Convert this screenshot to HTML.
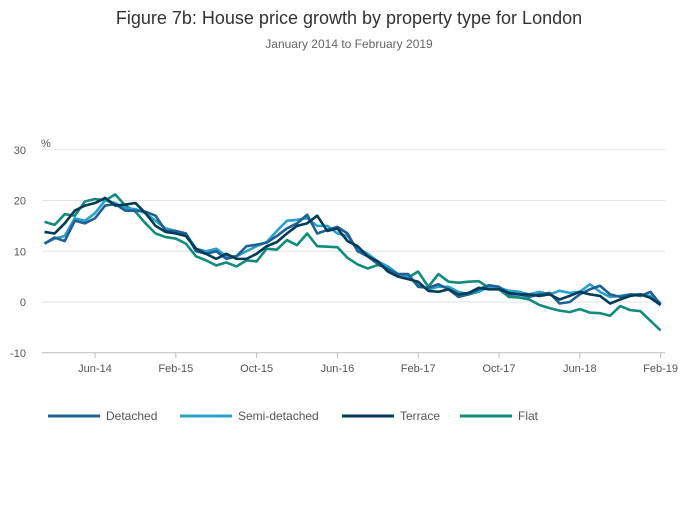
<!DOCTYPE html>
<html><head><meta charset="utf-8"><style>
body{margin:0;background:#fff;font-family:"Liberation Sans",sans-serif}
svg text{font-family:"Liberation Sans",sans-serif}
</style></head><body>
<svg id="c" width="700" height="502">
<text x="349" y="24" text-anchor="middle" font-size="18" fill="#333">Figure 7b: House price growth by property type for London</text>
<text x="349" y="48" text-anchor="middle" font-size="12" fill="#666">January 2014 to February 2019</text>
<text x="41" y="147" font-size="11" fill="#555">%</text>
<g id="grid"></g><g id="series"></g><g id="legend"></g>
</svg>
<script>
const yTicks=[30,20,10,0,-10];
const xTickIdx=[5,13,21,29,37,45,53,61];
const xTickLabels=["Jun-14","Feb-15","Oct-15","Jun-16","Feb-17","Oct-17","Jun-18","Feb-19"];
const seriesNames=["Detached","Semi-detached","Terrace","Flat"];
const detached=[11.5,12.7,12,16,15.5,16.5,19,19.3,18,18,17.8,17,14,14,13.5,10,9.5,10,8.5,9,11,11.3,11.7,13,14.5,15.5,17.2,13.5,14.2,14.8,13.5,10,9,7.5,6.5,5.5,5.5,3,2.8,3.5,2.5,1,1.5,2.5,3.3,3,1.5,1.5,1,1.5,1.8,-0.3,0,1.5,2.5,3.2,1.5,1,1.5,1.2,2,-0.5];
const semi=[11.5,12.5,13,16.5,16,17.5,20,19.5,18.5,18.3,17.5,16,14.5,14,13.5,10.5,10,10.5,9,9,10,11,11.8,14,16,16.2,16.5,15,15,13.5,13,10.5,9.5,8,7,5.5,5,3.5,2.5,3,3,2,1.5,2,3,2.8,2.2,2,1.5,2,1.5,2.2,1.8,2,3.5,2,1,1.2,1.5,1.5,1.2,-0.2];
const terrace=[13.8,13.5,15.5,18,19,19.5,20.5,19,19.2,19.5,17.5,15,13.8,13.5,13,10.5,9.5,8.5,9.5,8.5,8.5,9.5,11,11.8,13.5,15,15.5,17,14,14.5,12,11,9,8,6,5,4.5,4,2.2,2,2.5,1.5,1.8,2.8,2.5,2.5,1.8,1.5,1.5,1.2,1.5,0.5,1.2,2,1.5,1.2,-0.3,0.5,1.2,1.5,0.8,-0.6];
const flat=[15.8,15.2,17.3,17,19.8,20.3,20,21.2,19,17.8,15.5,13.5,12.8,12.5,11.5,9,8.2,7.2,7.8,7,8.2,8,10.5,10.3,12.2,11.2,13.5,11,10.9,10.8,8.7,7.4,6.6,7.3,6.8,5.3,4.8,6,3,5.5,4,3.8,4,4.1,2.8,2.5,1,0.9,0.5,-0.6,-1.2,-1.7,-2,-1.4,-2.1,-2.2,-2.7,-0.8,-1.6,-1.8,-3.7,-5.6];
const colors=["#206095","#27a0cc","#003c57","#118c7b"];
const NS="http://www.w3.org/2000/svg";
const X=i=>44.5+i*10.1;
const Y=v=>302-v*5.075;
function mk(t,a,p){const e=document.createElementNS(NS,t);for(const k in a)e.setAttribute(k,a[k]);p.appendChild(e);return e;}
const grid=document.getElementById('grid');
yTicks.forEach(v=>{
  const l=mk('line',{x1:42,x2:665,y1:Y(v),y2:Y(v),stroke:v===-10?'#bbb':'#e2e2e2','stroke-width':1},grid);
  
  
  const t=mk('text',{x:26,y:Y(v)+4,'text-anchor':'end','font-size':11,fill:'#555'},grid);t.textContent=v;
  
  
});
xTickIdx.forEach((idx,k)=>{
  const l=mk('line',{x1:X(idx),x2:X(idx),y1:353,y2:358,stroke:'#bbb'},grid);
  
  
  const t=mk('text',{x:X(idx),y:372,'text-anchor':'middle','font-size':11,fill:'#555'},grid);t.textContent=xTickLabels[k];
  
  
});
const data=[detached,semi,terrace,flat];
const order=[3,1,0,2];
const sg=document.getElementById('series');
order.forEach(s=>{
  const p=mk('polyline',{points:data[s].map((v,i)=>X(i)+','+Y(v)).join(' '),fill:'none',stroke:colors[s],'stroke-width':2.6,'stroke-linejoin':'round'},sg);
  
  
});
const lg=document.getElementById('legend');
const lx=[48,180,342,460];
seriesNames.forEach((n,s)=>{
  const g=mk('g',{},lg);
  
  
  mk('line',{x1:lx[s],x2:lx[s]+52,y1:416,y2:416,stroke:colors[s],'stroke-width':3},g);
  const t=mk('text',{x:lx[s]+58,y:420,'font-size':12,fill:'#555'},g);t.textContent=n;
});
</script>
</body></html>
